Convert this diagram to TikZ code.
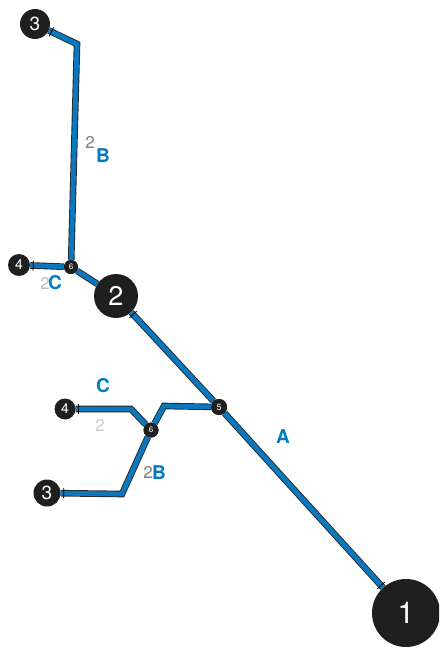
\documentclass[tikz,border=0pt]{standalone}
\usepackage{fontspec}
\setmainfont{TeX Gyre Heros}
\usetikzlibrary{decorations.markings}
\definecolor{pipeblue}{RGB}{10,120,190}
\definecolor{lbl}{RGB}{0,122,195}
\tikzset{
  pipe/.style={line width=6.6pt, draw=black!85, line join=miter,
    postaction={draw=pipeblue, line width=4.8pt}},
  tickstart/.style={postaction={decorate, decoration={markings,
    mark=at position 3pt with {\draw[black,line width=0.8pt] (0,-5pt)--(0,5pt);}}}},
  tickend/.style={postaction={decorate, decoration={markings,
    mark=at position -3pt with {\draw[black,line width=0.8pt] (0,-5pt)--(0,5pt);}}}},
  junc/.style={circle, fill=black!88, text=white, inner sep=0pt, font=#1},
  lab/.style={text=lbl, font=\bfseries\fontsize{19}{19}\selectfont},
  glab/.style={text=black!50, font=\fontsize{17}{17}\selectfont},
}
\begin{document}
\begin{tikzpicture}[x=1pt,y=-1pt]
\useasboundingbox (0,0) rectangle (439,652);
\clip (0,0) rectangle (439,652);
% nodes
\node[junc=\fontsize{30}{30}\selectfont, minimum size=68pt] (n1) at (406,613) {1};
\node[junc=\fontsize{27}{27}\selectfont, minimum size=44pt] (n2) at (116,296) {2};
\node[junc=\fontsize{19}{19}\selectfont, minimum size=30pt] (n3t) at (35,24) {3};
\node[junc=\fontsize{19}{19}\selectfont, minimum size=27pt] (n3b) at (47,493) {3};
\node[junc=\fontsize{14}{14}\selectfont, minimum size=22pt] (n4t) at (19,265) {4};
\node[junc=\fontsize{14}{14}\selectfont, minimum size=21pt] (n4b) at (65,409) {4};
\node[junc=\fontsize{9}{9}\selectfont, minimum size=16pt] (n5) at (219,407) {5};
\node[junc=\fontsize{8}{8}\selectfont, minimum size=14pt] (n6t) at (71,267) {6};
\node[junc=\fontsize{8}{8}\selectfont, minimum size=15pt] (n6b) at (151,430) {6};
% bend points
\coordinate (k1) at (77,44);
\coordinate (k2) at (164,406);
\coordinate (k3) at (131,409);
\coordinate (k4) at (122,494);
% pipes
\draw[pipe, tickstart] (n3t) -- (k1) -- (n6t);
\draw[pipe, tickend] (n6t) -- (n4t);
\draw[pipe] (n6t) -- (n2);
\draw[pipe, tickstart] (n2) -- (n5);
\draw[pipe, tickend] (n5) -- (n1);
\draw[pipe] (n5) -- (k2) -- (n6b);
\draw[pipe, tickend] (n6b) -- (k3) -- (n4b);
\draw[pipe, tickend] (n6b) -- (k4) -- (n3b);
% redraw junction nodes on top
\node[junc=\fontsize{9}{9}\selectfont, minimum size=16pt] at (n5) {5};
\node[junc=\fontsize{8}{8}\selectfont, minimum size=14pt] at (n6t) {6};
\node[junc=\fontsize{8}{8}\selectfont, minimum size=15pt] at (n6b) {6};
% labels
\node[lab] (la) at (283,437) {A};
\node[glab] (g1) at (90,142) {2};
\node[lab] (lb1) at (103,156) {B};
\node[glab, text=black!25] (g2) at (45,283) {2};
\node[lab] (lc1) at (55,283) {C};
\node[lab] (lc2) at (103,386) {C};
\node[glab, text=black!20] (g3) at (100,425) {2};
\node[glab] (g4) at (148,472) {2};
\node[lab] (lb2) at (159,473) {B};
\end{tikzpicture}
\end{document}
